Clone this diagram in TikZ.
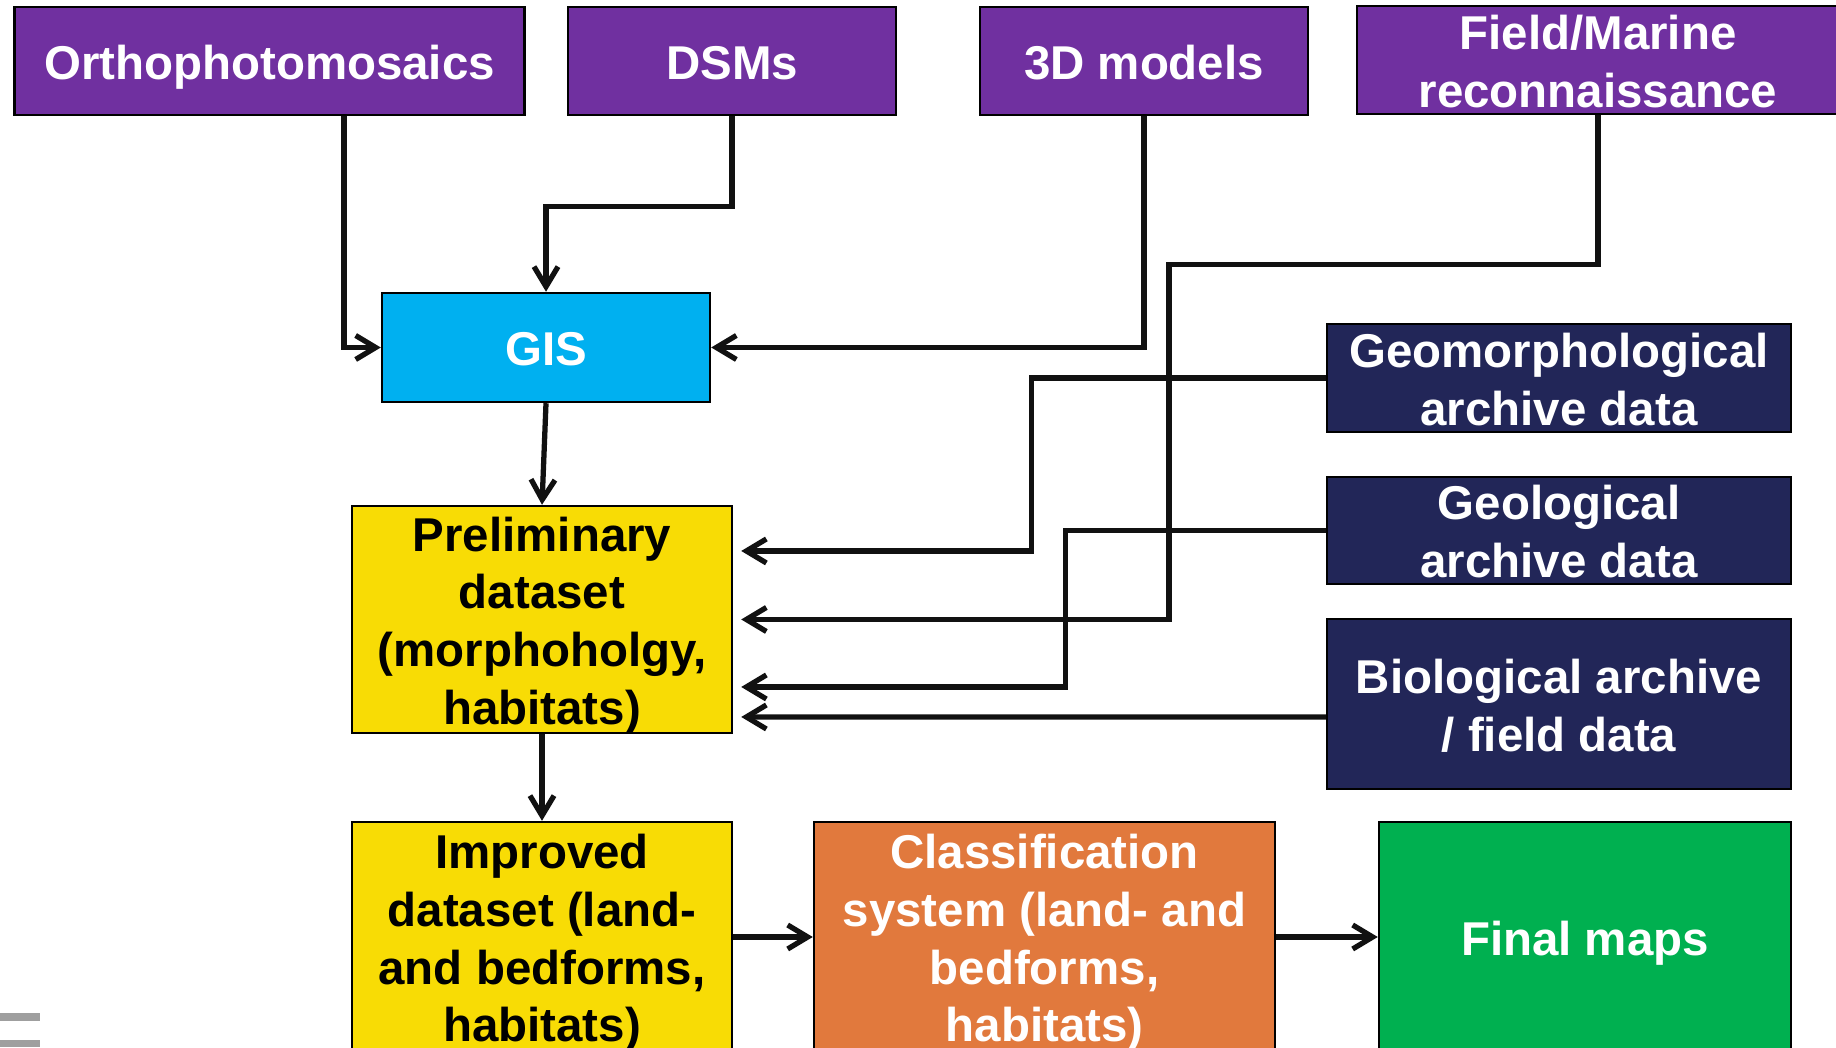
\documentclass[tikz,border=0pt]{standalone}
\usepackage{fontspec}
\setmainfont{Liberation Sans}
\usetikzlibrary{arrows.meta}
\definecolor{srcpurple}{HTML}{7030A0}
\definecolor{gisblue}{HTML}{00B0F0}
\definecolor{archnavy}{HTML}{222658}
\definecolor{datayellow}{HTML}{F8DC05}
\definecolor{classorange}{HTML}{E1793D}
\definecolor{mapgreen}{HTML}{00B050}
\definecolor{wire}{HTML}{111111}
\newcommand{\topstrut}{\rule{0pt}{0.93cm}}

\begin{document}
\begin{tikzpicture}[line width=3pt,>={Straight Barb[length=4mm,width=4.8mm]},
  box/.style={draw=black,line width=1.4pt,inner xsep=0pt,inner ysep=-0.15cm,align=center,
    font=\bfseries\fontsize{27}{32.9}\selectfont,
    execute at end node={\rule[-0.2cm]{0pt}{0pt}}},
  src/.style={box,fill=srcpurple,text=white,minimum height=2.16cm},
  arch/.style={box,fill=archnavy,text=white,minimum width=9.28cm},
  wire/.style={draw=wire,->}]
\useasboundingbox (0,0) rectangle (36.72,20.96);

% sources along the top
\node[src,minimum width=10.2cm] (ortho) at (5.39,19.74) {\topstrut Orthophotomosaics};
\node[src,minimum width=6.56cm] (dsm) at (14.64,19.74) {\topstrut DSMs};
\node[src,minimum width=6.56cm] (model) at (22.88,19.74) {\topstrut 3D models};
\node[src,minimum width=9.64cm] (field) at (31.96,19.76) {\topstrut Field/Marine\\reconnaissance};

% GIS and datasets
\node[box,fill=gisblue,text=white,minimum width=6.56cm,minimum height=2.18cm] (gis) at (10.92,14.01) {\topstrut GIS};
\node[box,fill=datayellow,minimum width=7.6cm,minimum height=4.54cm] (prelim) at (10.84,8.57)
  {\topstrut Preliminary\\dataset\\(morphoholgy,\\habitats)};
\node[box,fill=datayellow,minimum width=7.6cm,minimum height=4.6cm] (improved) at (10.84,2.22)
  {\topstrut Improved\\dataset (land-\\and bedforms,\\habitats)};
\node[box,fill=classorange,text=white,minimum width=9.22cm,minimum height=4.6cm] (classif) at (20.89,2.22)
  {\topstrut Classification\\system (land- and\\bedforms,\\habitats)};
\node[box,fill=mapgreen,text=white,minimum width=8.24cm,minimum height=4.6cm] (final) at (31.70,2.22) {\topstrut Final maps};

% archive data on the right
\node[arch,minimum height=2.16cm] (geomorph) at (31.18,13.40) {\topstrut Geomorphological\\archive data};
\node[arch,minimum height=2.14cm] (geolog) at (31.18,10.35) {\topstrut Geological\\archive data};
\node[arch,minimum height=3.4cm] (bio) at (31.18,6.88) {\topstrut Biological archive\\/ field data};

% connectors into GIS
\draw[wire] ([xshift=1.49cm]ortho.south) |- (gis.west);
\draw[wire] (dsm.south) -- ++(0,-1.8) -| (gis.north);
\draw[wire] (model.south) |- (gis.east);

% connectors into the preliminary dataset
\draw[wire,shorten >=0.16cm] (geomorph.west) -- ++(-5.88,0) |- ([yshift=1.37cm]prelim.east);
\draw[wire,shorten >=0.16cm] (field.south) -- ++(0,-2.98) -- ++(-8.58,0) |- (prelim.east);
\draw[wire,shorten >=0.16cm] (geolog.west) -- ++(-5.2,0) |- ([yshift=-1.35cm]prelim.east);
\draw[wire,shorten >=0.16cm] ([yshift=-0.26cm]bio.west) -- ([yshift=-1.95cm]prelim.east);

% main chain
\draw[wire] (gis.south) -- (prelim.north);
\draw[wire] (prelim.south) -- (improved.north);
\draw[wire] (improved.east) -- (classif.west);
\draw[wire] (classif.east) -- (final.west);

% slide icon remnant, bottom left
\fill[gray!75] (0,0.54) rectangle (0.8,0.70);
\fill[gray!75] (0,0.02) rectangle (0.8,0.16);
\end{tikzpicture}
\end{document}
